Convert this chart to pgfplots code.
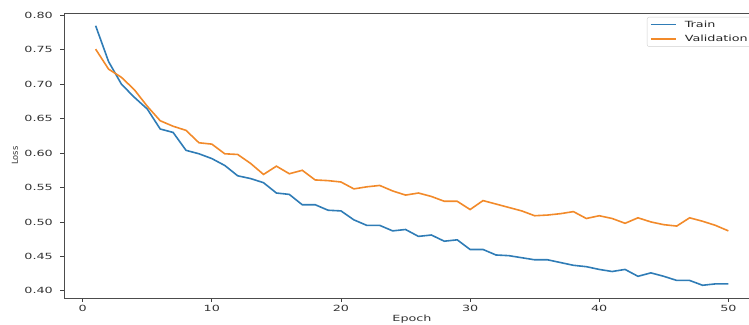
\documentclass[border=0pt]{standalone}
\usepackage{pgfplots}
\pgfplotsset{compat=1.18}
\usepackage{fontspec}
\setmainfont[FakeStretch=1.5]{DejaVu Sans}
\newfontfamily\plainfont{DejaVu Sans}
\definecolor{tabblue}{HTML}{2F7CB6}
\definecolor{taborange}{HTML}{F28A2A}
\begin{document}
\begin{tikzpicture}
\useasboundingbox (0,0) rectangle (749pt,324pt);
\clip (0,0) rectangle (749pt,324pt);
\begin{axis}[
  at={(64pt,26pt)}, anchor=south west,
  scale only axis, width=696pt, height=285pt,
  xmin=-1.45, xmax=52.45, ymin=0.3895, ymax=0.8035,
  xtick={0,10,20,30,40,50},
  ytick={0.40,0.45,0.50,0.55,0.60,0.65,0.70,0.75,0.80},
  xtick pos=bottom, ytick pos=left,
  tick align=outside, major tick length=3.5pt,
  every tick/.style={black!75, line width=0.8pt},
  axis line style={black!70, line width=0.9pt},
  /pgf/number format/assume math mode=true,
  yticklabel style={/pgf/number format/.cd, fixed, fixed zerofill, precision=2, /tikz/.cd},
  xticklabel style={/pgf/number format/.cd, fixed, precision=0, /tikz/.cd},
  ticklabel style={font=\fontsize{8.5}{10}\selectfont, text=black!80},
  every x tick label/.append style={inner sep=0pt, anchor=north, yshift=-3.5pt},
  every y tick label/.append style={inner sep=0pt, anchor=east, xshift=-7.5pt},
  xlabel={Epoch},
  ylabel={Loss},
  xlabel style={font=\fontsize{8.5}{10}\selectfont, text=black!80, at={(axis description cs:0.5,0)}, anchor=north, inner sep=0pt, yshift=-17pt},
  ylabel style={font=\plainfont\fontsize{8.3}{10}\selectfont, text=black!80, at={(axis description cs:-0.0704,0.5)}, anchor=center, inner sep=0pt},
  legend style={at={(rel axis cs:0.8376,0.986)}, anchor=north west,
    draw=black!18, rounded corners=2pt, fill=white,
    font=\fontsize{8.5}{10}\selectfont, text=black!85,
    inner xsep=3pt, inner ysep=1.5pt, row sep=2.5pt,
    /tikz/every odd column/.append style={column sep=6pt}},
  legend cell align=left,
  legend image code/.code={\draw[#1] (0pt,0pt) -- (25pt,0pt);},
]
\addplot[tabblue, line width=1.6pt] coordinates {
(1,0.785) (2,0.733) (3,0.700) (4,0.681) (5,0.664) (6,0.635) (7,0.630) (8,0.604) (9,0.599) (10,0.592)
(11,0.582) (12,0.567) (13,0.563) (14,0.557) (15,0.542) (16,0.540) (17,0.525) (18,0.525) (19,0.517) (20,0.516)
(21,0.503) (22,0.495) (23,0.495) (24,0.487) (25,0.489) (26,0.479) (27,0.481) (28,0.472) (29,0.474) (30,0.460)
(31,0.460) (32,0.452) (33,0.451) (34,0.448) (35,0.445) (36,0.445) (37,0.441) (38,0.437) (39,0.435) (40,0.431)
(41,0.428) (42,0.431) (43,0.421) (44,0.426) (45,0.421) (46,0.415) (47,0.415) (48,0.408) (49,0.410) (50,0.410)
};
\addlegendentry{Train}
\addplot[taborange, line width=1.6pt] coordinates {
(1,0.751) (2,0.722) (3,0.710) (4,0.692) (5,0.668) (6,0.647) (7,0.639) (8,0.633) (9,0.615) (10,0.613)
(11,0.599) (12,0.598) (13,0.585) (14,0.569) (15,0.581) (16,0.570) (17,0.575) (18,0.561) (19,0.560) (20,0.558)
(21,0.548) (22,0.551) (23,0.553) (24,0.545) (25,0.539) (26,0.542) (27,0.537) (28,0.530) (29,0.530) (30,0.518)
(31,0.531) (32,0.526) (33,0.521) (34,0.516) (35,0.509) (36,0.510) (37,0.512) (38,0.515) (39,0.505) (40,0.509)
(41,0.505) (42,0.498) (43,0.506) (44,0.500) (45,0.496) (46,0.494) (47,0.506) (48,0.501) (49,0.495) (50,0.487)
};
\addlegendentry{Validation}
\end{axis}
\end{tikzpicture}
\end{document}
